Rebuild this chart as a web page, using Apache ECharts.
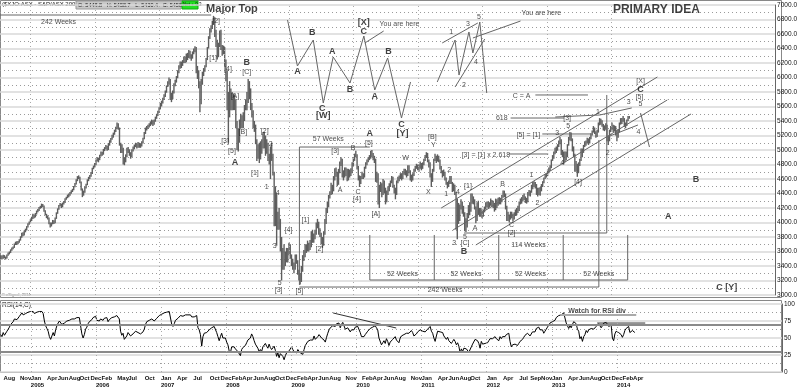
<!DOCTYPE html>
<html><head><meta charset="utf-8">
<script src="https://cdn.jsdelivr.net/npm/echarts@6/dist/echarts.min.js"></script>
<style>html,body{margin:0;padding:0;background:#fff}#c{width:800px;height:391px}</style>
</head><body><div id="c"></div>
<script>
// ---------- DATA ----------
const firstWeek = [2004, 7, 16];           // first weekly bar (Friday)
const weeklyHigh = [
3550,3545,3555,3550,3530,3560,3585,3600,3630,3655,3670,3710,3735,3740,3745,3770,3810,3860,3865,3890,3915,3950,3990,4015,4045,
4080,4120,4110,4130,4165,4185,4215,4230,4260,4255,4235,4170,4120,4095,4070,4000,4000,4035,4030,4070,4140,4195,4240,4270,4260,4275,4295,4335,4355,4385,4400,4420,4445,4465,4505,4545,4595,4640,4650,4630,4565,4470,4440,4495,4535,4595,4630,4655,4695,4755,4785,4820,
4870,4900,4895,4935,4980,4975,5015,5040,5070,5060,5095,5135,5165,5210,5240,5280,5320,5380,5370,5310,5100,5080,5030,4900,4940,5030,5040,5010,4970,5010,5050,5075,5100,5090,5110,5100,5090,5120,5170,5250,5310,5330,5350,5370,5395,5420,5410,5420,5460,5500,5540,5590,
5650,5680,5720,5770,5820,5890,5950,6000,5980,5790,5820,5920,5970,6020,6100,6170,6220,6220,6240,6290,6290,6330,6340,6380,6370,6320,6360,6400,6430,6420,6160,6100,5950,5980,6080,6130,6170,6270,6420,6570,6680,6720,6780,6850,6830,6660,6520,6480,6650,6660,6450,6440,
6420,6250,6100,5800,5950,5850,5800,5780,5760,5700,5400,5300,5420,5500,5480,5520,5620,5700,5800,5980,5950,5850,5650,5550,5400,5350,5150,5080,5100,5120,5150,5250,5250,5200,5150,5100,4950,5050,5100,4950,4700,4500,4400,4150,4200,4050,3800,3650,3700,3600,3650,3650,
3720,3700,3560,3500,3450,3560,3560,3480,3350,3300,3400,3550,3620,3700,3700,3750,3720,3760,3880,3900,3850,3900,4000,4050,4010,3920,3860,3800,3880,4050,4200,4290,4380,4430,4550,4520,4640,4750,4760,4700,4740,4840,4900,4880,4720,4760,4760,4740,4740,4730,4750,4830,
4900,4950,4990,4940,4780,4650,4640,4700,4680,4770,4830,4870,4900,4930,4990,5000,4960,4920,4880,4700,4680,4520,4560,4540,4600,4580,4480,4440,4500,4540,4580,4640,4630,4520,4480,4580,4630,4650,4680,4680,4710,4740,4740,4720,4790,4790,4720,4660,4680,4740,4780,4810,4800,
4800,4840,4820,4830,4880,4930,4970,4960,4870,4830,4680,4740,4880,4950,4920,4940,4920,4870,4780,4720,4730,4700,4620,4560,4580,4640,4640,4560,4540,4520,4420,4330,4270,4250,4320,4290,4230,4140,4060,4130,4240,4280,4400,4400,4360,4320,4220,4280,4300,4200,4200,4180,
4180,4220,4280,4290,4290,4280,4330,4310,4300,4270,4330,4320,4340,4350,4340,4380,4440,4440,4400,4230,4150,4110,4150,4150,4120,4140,4180,4200,4230,4290,4330,4350,4380,4400,4360,4340,4420,4450,4440,4520,4560,4570,4560,4530,4480,4480,4490,4530,4570,4620,4670,4680,
4730,4760,4790,4870,4930,4980,5030,5050,5080,5130,5180,5150,5000,4980,4980,4980,5080,5180,5250,5240,5160,5050,4950,4850,4810,4830,4880,5020,5020,5070,5120,5130,5170,5160,5180,5230,5270,5330,5310,5260,5280,5380,5440,5430,5410,5360,5340,5370,5350,5180,5280,5330,
5380,5350,5340,5330,5270,5290,5380,5440,5440,5470,5440,5380,5420,5470,5470
];
const weeklyLow = [
3495,3490,3500,3505,3490,3505,3540,3560,3580,3610,3630,3650,3690,3690,3700,3720,3750,3790,3810,3820,3865,3890,3930,3970,3990,
4020,4050,4060,4070,4110,4140,4160,4190,4200,4215,4150,4100,4060,4040,3975,3930,3945,3975,3980,3990,4050,4120,4175,4225,4200,4210,4250,4270,4315,4335,4350,4370,4395,4420,4445,4485,4525,4570,4600,4540,4440,4350,4370,4410,4470,4515,4570,4600,4630,4670,4735,4760,
4790,4840,4830,4860,4910,4920,4935,4985,5010,4990,5000,5060,5100,5140,5170,5210,5250,5290,5280,5060,4960,4960,4800,4790,4830,4900,4960,4920,4880,4900,4980,5010,5040,5020,5030,5030,5030,5050,5090,5150,5220,5270,5290,5310,5330,5350,5330,5350,5390,5430,5470,5510,
5560,5600,5640,5690,5730,5790,5870,5900,5690,5660,5700,5780,5880,5930,5990,6060,6120,6130,6160,6200,6200,6210,6240,6270,6260,6230,6260,6320,6350,6060,5980,5850,5520,5630,5900,6020,6080,6140,6240,6400,6530,6620,6670,6730,6560,6420,6250,6280,6420,6380,6300,6320,
6150,5950,5550,5100,5450,5550,5550,5550,5550,5300,5000,4980,5100,5300,5300,5300,5400,5550,5550,5650,5700,5550,5450,5300,5250,5080,4850,4880,4820,4870,4950,5020,5020,4920,4950,4850,4800,4600,4850,4650,3950,3950,3680,3900,3900,3600,3200,3350,3350,3400,3450,3450,
3550,3500,3400,3350,3300,3350,3430,3280,3200,3145,3180,3320,3470,3520,3580,3600,3600,3620,3660,3720,3720,3770,3830,3920,3830,3800,3700,3650,3680,3830,3980,4130,4210,4330,4380,4390,4430,4580,4630,4500,4520,4680,4780,4620,4580,4620,4640,4570,4580,4620,4640,4680,
4780,4850,4900,4730,4580,4490,4530,4600,4600,4620,4740,4790,4830,4860,4880,4900,4860,4820,4560,4550,4250,4200,4420,4350,4380,4400,4250,4280,4380,4430,4490,4540,4480,4400,4320,4380,4540,4570,4600,4580,4600,4660,4650,4620,4640,4680,4580,4560,4580,4640,4700,4740,4720,
4700,4740,4720,4740,4790,4850,4890,4830,4760,4620,4490,4560,4700,4850,4820,4840,4830,4730,4680,4620,4640,4580,4520,4470,4490,4530,4530,4420,4430,4380,3900,3770,3980,4020,4180,4120,4080,3880,3870,3930,4060,4100,4150,4260,4250,4180,3990,4020,4110,4080,4080,4060,
4080,4140,4180,4210,4200,4210,4230,4220,4200,4150,4170,4200,4230,4250,4250,4280,4340,4350,4180,4020,4020,4000,4040,4060,4010,4040,4090,4100,4130,4160,4250,4260,4290,4310,4270,4260,4280,4370,4360,4410,4460,4490,4470,4380,4360,4380,4370,4430,4490,4540,4600,4620,
4640,4680,4710,4750,4850,4880,4940,4960,4990,5040,5080,4930,4900,4800,4830,4860,4900,5060,5130,5120,4980,4900,4700,4700,4630,4680,4780,4850,4900,4960,5040,5060,5090,5070,5090,5150,5200,5240,5220,5170,5180,5240,5340,5350,5320,5270,5260,5280,5120,5070,5120,5250,
5280,5250,5260,5200,5120,5170,5240,5350,5360,5390,5320,5300,5330,5400,5430
];
const weeklyRsi = [
55,52,58,54,52,60,63,66,70,72,74,78,80,77,79,82,84,87,84,86,86,87,88,89,89,
88,89,86,88,88,88,89,89,89,86,75,68,64,60,52,48,53,58,53,62,68,72,75,76,70,70,72,74,75,76,76,77,78,77,78,79,80,81,80,68,56,50,55,63,66,71,74,75,77,80,81,82,
76,78,75,78,79,76,79,79,80,74,77,79,80,81,81,82,83,83,78,60,54,57,48,47,53,58,57,53,51,56,58,60,61,58,60,56,57,59,63,70,74,75,76,77,78,80,75,77,79,81,83,85,
85,85,87,88,88,89,89,89,70,67,71,76,78,79,81,83,84,82,83,84,82,84,82,84,81,79,81,82,83,65,62,55,38,52,57,55,58,60,62,63,65,66,67,67,58,52,46,52,57,50,48,50,
44,40,31,28,37,35,37,34,36,30,28,24,33,36,34,39,43,47,47,50,56,52,46,41,39,35,30,33,30,37,38,42,38,35,41,36,33,31,38,32,23,28,21,27,26,23,18,24,28,30,31,33,
37,33,30,29,28,33,32,28,28,26,33,39,41,45,44,47,45,47,53,48,50,52,55,57,50,50,47,44,51,57,62,65,67,68,70,67,71,73,72,65,70,73,74,63,63,65,64,59,62,60,62,66,
67,67,68,58,52,50,52,55,54,60,62,64,65,66,68,68,65,62,50,52,40,43,46,42,49,45,39,44,46,48,50,52,47,45,43,50,53,54,55,53,57,58,57,55,61,58,53,53,56,59,61,62,60,
60,62,59,61,63,65,67,60,57,50,45,53,60,62,59,61,58,53,51,48,51,46,44,42,45,48,45,40,43,38,28,34,30,35,37,34,33,29,30,37,41,40,48,46,46,42,35,45,41,40,42,41,
43,46,49,49,49,49,52,49,49,46,52,49,52,52,52,55,57,57,45,37,40,38,41,41,39,42,45,45,48,51,54,54,57,57,53,53,59,59,59,64,64,66,62,60,62,57,60,63,66,69,72,72,
74,75,76,80,82,83,84,84,85,87,87,72,71,64,68,65,70,74,75,71,63,60,49,52,45,52,55,61,58,62,64,64,66,63,65,67,69,71,68,65,68,72,74,73,70,67,67,69,50,46,56,60,
61,58,58,55,51,55,61,64,64,67,58,58,61,63,58.07
];
const lastBar = {open: 5448.8, high: 5458.7, low: 5430.4, close: 5458.1, net: 9.3};
const monthLabels = ['2004-08','2004-11','2005-01','2005-04','2005-06','2005-08','2005-10','2005-12','2006-02','2006-05','2006-07','2006-10',
 '2007-01','2007-04','2007-07','2007-10','2007-12','2008-02','2008-04','2008-06','2008-08','2008-10','2008-12','2009-02','2009-04','2009-06',
 '2009-08','2009-11','2010-02','2010-04','2010-06','2010-08','2010-11','2011-01','2011-04','2011-06','2011-08','2011-10','2012-01','2012-04',
 '2012-07','2012-09','2012-11','2013-01','2013-04','2013-06','2013-08','2013-10','2013-12','2014-02','2014-04'];
const yearLabels = [2005,2006,2007,2008,2009,2010,2011,2012,2013,2014];
const monthNames = ['Jan','Feb','Mar','Apr','May','Jun','Jul','Aug','Sep','Oct','Nov','Dec'];

// annotations: [text, week number from first bar, price]
const waveLabels = [
 ['[2]',174.1,6779],['[1]',171.7,6269],['[4]',183.7,6117],['[3]',181.3,5124],['[A]',189.3,5745],['[5]',186.9,4986],
 ['[B]',195.7,5248],['[C]',198.9,6076],['[1]',205.4,4683],['[2]',213.4,5262],['2',218.2,5083],['1',215,4490],['4',223.8,4407],
 ['3',221.4,3676],['[4]',232.6,3897],['5',225.4,3166],['[3]',224.6,3069],['[5]',241.4,3055],['[1]',246.2,4034],['[2]',257.5,3634],
 ['[3]',270.3,4986],['A',274.3,4448],['B',284.7,5028],['C',288.7,4421],['[4]',287.9,4324],['[5]',297.5,5097],['[A]',303.1,4117],
 ['W',327.2,4890],['X',345.6,4421],['[B]',348.8,5179],['Y',349.6,5069],['2',362.4,4724],['1',360,4393],['4',369.6,4421],['3',366.4,3717],
 ['5',375.2,3800],['[C]',375.2,3717],['[1]',377.6,4503],['A',383.3,3924],['B',405.7,4531],['C',412.9,3966],['[2]',412.9,3855],
 ['1',428.9,4655],['2',433.7,4269],['3',449.8,5234],['4',453.8,4821],['5',458.6,5331],['[3]',457.8,5441],['[4]',466.6,4559],
 ['1',482.6,5524],['2',490.6,4959],['3',507.5,5662],['4',515.5,5248],['5',517.1,5634],['[5]',516.3,5731],['[X]',517.1,5952],
 ['1',364,6628],['2',374.4,5897],['3',377.6,6738],['4',384,6214],['5',386.4,6834],
 ['You are here',322.3,6738],['You are here',436.9,6890],['C = A',420.9,5745],['618',404.9,5441],['[5] = [1]',426.5,5207],
 ['[3] = [1] x 2.618',392.1,4931],['57 Weeks',264.7,5152],['52 Weeks',324.7,3290],['52 Weeks',376,3290],['52 Weeks',428.1,3290],
 ['52 Weeks',483.4,3290],['114 Weeks',426.5,3690],['242 Weeks',359.2,3069],['242 Weeks',46.7,6765]
];
const degreeLabels = [
 ['A',189.3,4834],['B',198.9,6200],['A',298.3,5221],['B',374.4,3593],['C',517.1,5841],['B',561.9,4586],['A',539.5,4076],['C [Y]',586.8,3097],
 ['A',239.8,6076],['B',251.8,6614],['C',259.9,5579],['[W]',260.7,5469],['A',267.9,6352],['B',282.3,5828],['C',293.5,6628],['[X]',293.5,6752],
 ['A',302.3,5731],['B',313.5,6352],['C',323.9,5345],['[Y]',324.7,5234]
];
const titleLabels = [['Major Top',186.9,6945,11],['PRIMARY IDEA',529.9,6931,12]];
// drawn guide lines: polylines of [week, price]
const guideLines = [
 [[231.8,6793],[239.8,6159],[252.6,6517],[260.7,5648],[268.7,6283],[282.3,5924],[293.5,6572],[302.3,5828],[312.7,6269],[323.9,5441],[331.2,5938]],
 [[352.8,5938],[367.2,6517],[370.4,6034],[378.4,6628],[381.6,6338],[387.2,6765],[392.8,5786]],
 [[356.8,6476],[385.6,6752]],[[367.2,5869],[391.2,6531]],[[381.6,6545],[420.1,6779]],[[309.5,6641],[294.3,6476]],
 [[-3,6862],[170.1,6862]],
 [[241.4,3138],[241.4,5041],[298.3,5041]],
 [[241.4,3110],[483.4,3110],[483.4,5138]],
 [[374.4,3855],[489.8,3855],[489.8,5759]],
 [[298.3,3828],[298.3,3207],[506.7,3207],[506.7,3828]],
 [[350.4,3828],[350.4,3207]],[[402.5,3828],[402.5,3207]],[[454.6,3828],[454.6,3207]],
 [[432.1,5759],[474.6,5759]],[[412.1,5441],[455.4,5441]],[[448.2,5455],[484.2,5483]],[[437.7,5221],[477,5221]],[[410.5,4945],[442.5,4945]],
 [[356,4200],[530.7,6007]],[[365.6,3897],[538.7,5690]],[[384,3690],[557.9,5497]],
 [[484.2,5483],[510,5580]],[[490.3,5180],[515,5345]],[[517.1,5510],[524.3,5041]]
];
const rsiLines = [[[266.3,86.8],[316.8,64.7]],[[477.8,72],[516.3,72]]];
const rsiNoteLine = [[448.2,83.8],[509.1,83.8]];
const rsiNote = ['Watch for RSI div',477.8,89.7];

// ---------- BUILD ----------
const DAY = 86400000;
const t0 = Date.UTC(firstWeek[0], firstWeek[1]-1, firstWeek[2]);
const wk = w => t0 + w*7*DAY;
const tMin = Date.UTC(2004,6,12), tMax = Date.UTC(2016,6,14);
const barData = weeklyHigh.map((h,i)=>[wk(i), weeklyLow[i], h]);
const rsiData = weeklyRsi.map((v,i)=>[wk(i), v]);
const monthTs = monthLabels.map(s=>{const [y,m]=s.split('-').map(Number);return Date.UTC(y,m-1,1);});
const yearTs = yearLabels.map(y=>Date.UTC(y,0,1));
const FONT = 'Liberation Sans, Arial, sans-serif';

function textSeries(list, style){
  return {type:'scatter', xAxisIndex:0, yAxisIndex:0, symbolSize:0, silent:true, z:10,
    data:list.map(([s,w,p])=>({name:s, value:[wk(w),p]})),
    label:Object.assign({show:true, position:'inside', formatter:'{b}', fontFamily:FONT, color:'#222', fontSize:7}, style)};
}
const series = [];
series.push({type:'custom', xAxisIndex:0, yAxisIndex:0, data:barData, encode:{x:0,y:[1,2]}, silent:true,
  renderItem:(params, api)=>{
    const a = api.coord([api.value(0), api.value(1)]), b = api.coord([api.value(0), api.value(2)]);
    return {type:'line', shape:{x1:a[0],y1:a[1],x2:b[0],y2:b[1]}, style:{stroke:'#5e5e5e', lineWidth:1.4}};
  }});
guideLines.forEach(pts=>series.push({type:'line', xAxisIndex:0, yAxisIndex:0, data:pts.map(([w,p])=>[wk(w),p]),
  showSymbol:false, silent:true, lineStyle:{color:'#666', width:1}, z:5}));
series.push({type:'line', xAxisIndex:0, yAxisIndex:0, data:[], silent:true,
  markLine:{silent:true, symbol:'none', animation:false, label:{show:false},
    lineStyle:{color:'#aaa', type:[1,3], width:1},
    data:yearTs.map(t=>({xAxis:t}))}});
series.push({type:'line', xAxisIndex:0, yAxisIndex:0, data:[[wk(weeklyHigh.length-1), lastBar.close]], showSymbol:false, silent:true,
  markLine:{silent:true, symbol:'none', animation:false, lineStyle:{opacity:0},
    label:{show:true, position:'end', distance:1, formatter:lastBar.close.toFixed(1), backgroundColor:'#000', color:'#fff', fontSize:7, fontFamily:FONT, padding:[1,1,0,1]},
    data:[{yAxis:lastBar.close}]}});
series.push(textSeries(waveLabels, {}));
series.push(textSeries(degreeLabels, {fontWeight:'bold', fontSize:9, color:'#111'}));
titleLabels.forEach(([s,w,p,fs])=>series.push(textSeries([[s,w,p]], {fontWeight:'bold', fontSize:fs, color:'#111'})));
series.push({type:'line', xAxisIndex:1, yAxisIndex:1, data:rsiData, showSymbol:false, silent:true,
  lineStyle:{color:'#000', width:1},
  markLine:{silent:true, symbol:'none', animation:false, label:{show:false},
    data:[{yAxis:70, lineStyle:{color:'#8a8a8a', width:2, type:'solid'}},{yAxis:30, lineStyle:{color:'#8a8a8a', width:2, type:'solid'}}]}});
series.push({type:'line', xAxisIndex:1, yAxisIndex:1, data:[], silent:true,
  markLine:{silent:true, symbol:'none', animation:false, label:{show:false},
    lineStyle:{color:'#aaa', type:[1,3], width:1}, data:yearTs.map(t=>({xAxis:t}))}});
rsiLines.forEach(pts=>series.push({type:'line', xAxisIndex:1, yAxisIndex:1, data:pts.map(([w,v])=>[wk(w),v]),
  showSymbol:false, silent:true, lineStyle:{color:'#333', width:1}}));
series.push({type:'line', xAxisIndex:1, yAxisIndex:1, data:rsiNoteLine.map(([w,v])=>[wk(w),v]),
  showSymbol:false, silent:true, lineStyle:{color:'#aaa', width:2}});
series.push({type:'scatter', xAxisIndex:1, yAxisIndex:1, symbolSize:0, silent:true,
  data:[{name:rsiNote[0], value:[wk(rsiNote[1]), rsiNote[2]]}],
  label:{show:true, position:'inside', formatter:'{b}', fontSize:7, fontWeight:'bold', color:'#222', fontFamily:FONT}});
series.push({type:'line', xAxisIndex:1, yAxisIndex:1, data:[rsiData[rsiData.length-1]], showSymbol:false, silent:true,
  markLine:{silent:true, symbol:'none', animation:false, lineStyle:{opacity:0},
    label:{show:true, position:'end', distance:1, formatter:String(weeklyRsi[weeklyRsi.length-1]), backgroundColor:'#000', color:'#fff', fontSize:7, fontFamily:FONT, padding:[1,1,0,1]},
    data:[{yAxis:weeklyRsi[weeklyRsi.length-1]}]}});

const axisLabelStyle = {fontSize:6.5, color:'#111', fontFamily:FONT};
const hiddenX = {axisLine:{show:false}, axisTick:{show:false}, splitLine:{show:false}};
const option = {
  animation:false, backgroundColor:'#fff',
  grid:[{left:0, right:18, top:5, height:290},{left:0, right:18, top:304, height:68}],
  xAxis:[
    Object.assign({type:'value', gridIndex:0, min:tMin, max:tMax, axisLabel:{show:false}}, hiddenX),
    Object.assign({type:'value', gridIndex:1, position:'bottom', min:tMin, max:tMax,
     axisLabel:{customValues:monthTs, formatter:v=>monthNames[new Date(v).getUTCMonth()], align:'left', margin:3,
       fontSize:6, fontWeight:'bold', color:'#111', fontFamily:FONT, hideOverlap:false, showMinLabel:true, showMaxLabel:true}}, hiddenX),
    Object.assign({type:'value', gridIndex:1, position:'bottom', min:tMin, max:tMax,
     axisLabel:{customValues:yearTs, formatter:v=>String(new Date(v).getUTCFullYear()), align:'left', margin:10,
       fontSize:6, fontWeight:'bold', color:'#111', fontFamily:FONT, showMinLabel:true, showMaxLabel:true}}, hiddenX)
  ],
  yAxis:[
    {type:'value', gridIndex:0, position:'right', min:3000, max:7000, interval:200,
     axisLine:{show:true, lineStyle:{color:'#666'}}, axisTick:{show:false},
     axisLabel:Object.assign({margin:2, formatter:v=>v.toFixed(1)}, axisLabelStyle),
     splitLine:{show:true, lineStyle:{color:'#d8d8d8', width:1.5}},
     minorTick:{show:false, splitNumber:2}, minorSplitLine:{show:true, lineStyle:{color:'#9a9a9a', type:[1,3]}}},
    {type:'value', gridIndex:1, position:'right', min:0, max:100, interval:25,
     axisLine:{show:true, lineStyle:{color:'#666'}}, axisTick:{show:false},
     axisLabel:Object.assign({margin:2}, axisLabelStyle),
     splitLine:{show:true, lineStyle:{color:'#d8d8d8', width:1.5}},
     minorTick:{show:false, splitNumber:2}, minorSplitLine:{show:true, lineStyle:{color:'#9a9a9a', type:[1,3]}}}
  ],
  graphic:[
    {type:'rect', shape:{x:0.5,y:0.5,width:781,height:297}, style:{fill:null, stroke:'#888', lineWidth:1}, silent:true},
    {type:'rect', shape:{x:0.5,y:300.5,width:781,height:72}, style:{fill:null, stroke:'#888', lineWidth:1}, silent:true},
    {type:'text', left:2, top:1, style:{text:'($XJO:ASX - S&P/ASX 200,W)', font:'6px '+FONT, fill:'#111'}},
    {type:'rect', shape:{x:76,y:1,width:105,height:8}, style:{fill:'#c8c8c8', stroke:'#999'}},
    {type:'text', left:78, top:2, style:{text:'O: '+lastBar.open+'   H: '+lastBar.high+'   L: '+lastBar.low+'   C: '+lastBar.close, font:'5.5px '+FONT, fill:'#111'}},
    {type:'rect', shape:{x:182,y:1,width:16,height:8}, style:{fill:'#22e022', stroke:'#1a1'}},
    {type:'text', left:183, top:2, style:{text:'Net + '+lastBar.net, font:'4.5px '+FONT, fill:'#111'}},
    {type:'text', left:2, top:293, style:{text:'© eSignal, 2014', font:'4px '+FONT, fill:'#555'}},
    {type:'text', left:2, top:302, style:{text:'RSI(14,C)', font:'6.5px '+FONT, fill:'#111'}}
  ],
  series
};
echarts.init(document.getElementById('c')).setOption(option);
</script></body></html>
